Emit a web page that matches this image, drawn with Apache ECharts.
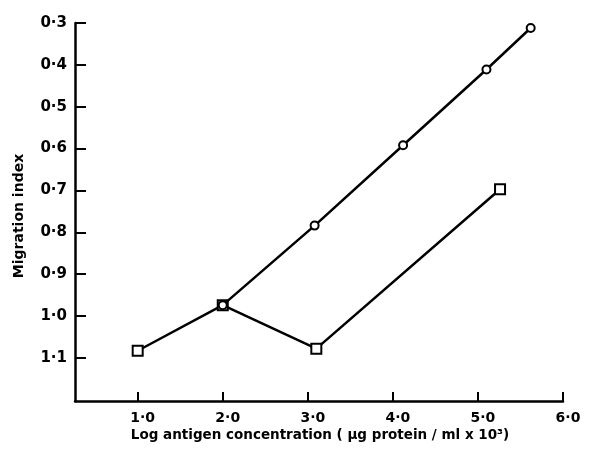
<!DOCTYPE html>
<html>
<head>
<meta charset="utf-8">
<script src="https://cdn.jsdelivr.net/npm/echarts@6/dist/echarts.min.js"></script>
<style>
  html, body { margin: 0; padding: 0; background: #fff; }
  #chart { width: 590px; height: 451px; }
</style>
</head>
<body>
<div id="chart"></div>
<script>
// data (log concentration, migration index)
var circleX = [2.0, 3.08, 4.12, 5.1, 5.62];
var circleY = [0.974, 0.784, 0.592, 0.411, 0.312];
var squareX = [1.0, 2.0, 3.1, 5.26];
var squareY = [1.083, 0.974, 1.078, 0.697];

var xTicks = [1, 2, 3, 4, 5, 6];
var yTicks = [0.3, 0.4, 0.5, 0.6, 0.7, 0.8, 0.9, 1.0, 1.1];

var xTitle = 'Log antigen concentration ( \u00b5g protein / ml x 10\u00b3)';
var yTitle = 'Migration index';

function pairs(xs, ys){
	var out = [];
	for(var i=0; i<xs.length; i++){
		out.push([xs[i], ys[i]]);
	}
	return out;
}

function fmt(v){
	return v.toFixed(1).replace('.', '\u00b7');
}

var font = 'DejaVu Sans';
var chart = echarts.init(document.getElementById('chart'));

var option = {
	backgroundColor: '#fff',
	animation: false,
	grid: {
		left: 75,
		right: 27,
		top: 23,
		bottom: 50,
		containLabel: false,
		outerBoundsMode: 'none'
	},
	xAxis: {
		type: 'value',
		min: 0.263,
		max: 6.0,
		splitLine: { show: false },
		axisLine: { onZero: false, lineStyle: { color: '#000', width: 2.5 } },
		axisTick: {
			inside: true, length: 9,
			customValues: xTicks,
			lineStyle: { color: '#000', width: 2 }
		},
		axisLabel: {
			customValues: xTicks,
			margin: 10,
			padding: [0, 0, 0, 10],
			color: '#000',
			fontFamily: font,
			fontWeight: 'bold',
			fontSize: 14,
			formatter: function(v){ return fmt(v); }
		}
	},
	yAxis: {
		type: 'value',
		inverse: true,
		min: 0.3,
		max: 1.203,
		splitLine: { show: false },
		axisLine: { onZero: false, lineStyle: { color: '#000', width: 2.5 } },
		axisTick: {
			inside: true, length: 11,
			customValues: yTicks,
			lineStyle: { color: '#000', width: 2 }
		},
		axisLabel: {
			customValues: yTicks,
			margin: 8,
			color: '#000',
			fontFamily: font,
			fontWeight: 'bold',
			fontSize: 15,
			formatter: function(v){ return fmt(v); }
		}
	},
	graphic: [
		{
			type: 'text',
			x: 320, y: 435,
			style: {
				text: xTitle,
				fill: '#000',
				font: 'bold 13.5px "' + font + '"',
				align: 'center',
				verticalAlign: 'middle'
			}
		},
		{
			type: 'text',
			x: 19, y: 216,
			rotation: Math.PI / 2,
			style: {
				text: yTitle,
				fill: '#000',
				font: 'bold 14px "' + font + '"',
				align: 'center',
				verticalAlign: 'middle'
			}
		}
	],
	series: [
		{
			name: 'square',
			type: 'line',
			data: pairs(squareX, squareY),
			symbol: 'rect',
			symbolSize: 10,
			lineStyle: { color: '#000', width: 2.5 },
			itemStyle: { color: '#fff', borderColor: '#000', borderWidth: 2 },
			z: 2
		},
		{
			name: 'circle',
			type: 'line',
			data: pairs(circleX, circleY),
			symbol: 'circle',
			symbolSize: 8,
			lineStyle: { color: '#000', width: 2.5 },
			itemStyle: { color: '#fff', borderColor: '#000', borderWidth: 2 },
			z: 3
		}
	]
};

chart.setOption(option);
</script>
</body>
</html>
